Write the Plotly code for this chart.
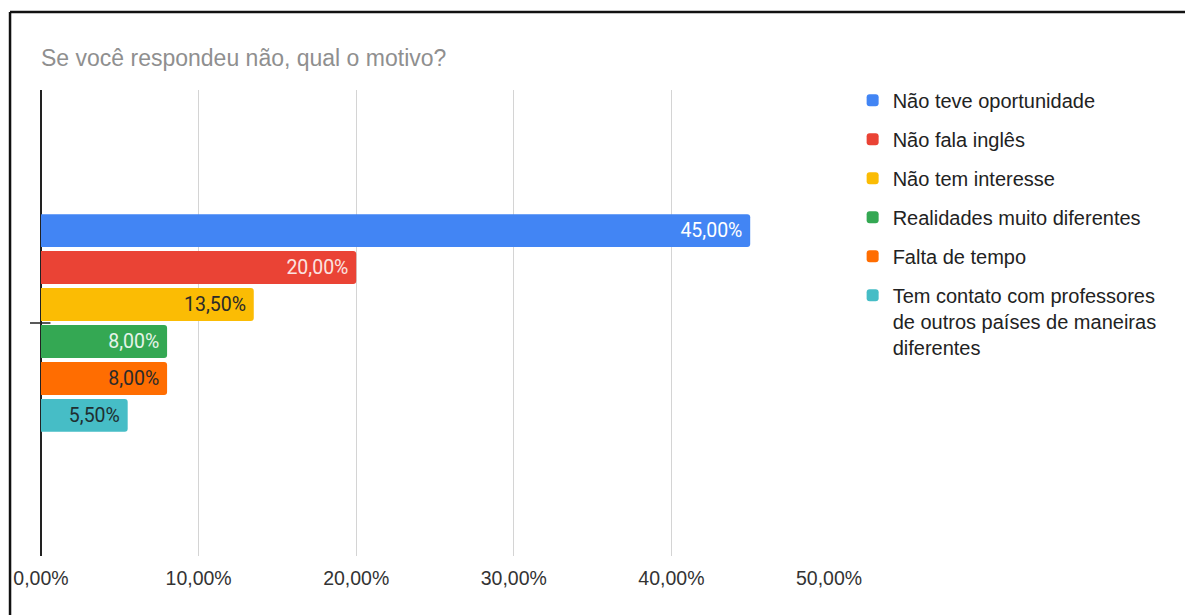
import plotly.graph_objects as go

categories = ["Não teve oportunidade", "Não fala inglês", "Não tem interesse",
              "Realidades muito diferentes", "Falta de tempo",
              "Tem contato com professores<br>de outros países de maneiras<br>diferentes"]
values = [0.45, 0.20, 0.135, 0.08, 0.08, 0.055]
colors = ["#4285F4", "#EA4335", "#FBBC04", "#34A853", "#FF6D01", "#46BDC6"]
label_colors = ["#ffffff", "#fbe3e1", "#2a2a2a", "#e6f4e9", "#2a2a2a", "#1f2f31"]
tick_vals = [0, 0.1, 0.2, 0.3, 0.4, 0.5]

fig = go.Figure()
for i, (name, v, c, lc) in enumerate(zip(categories, values, colors, label_colors)):
    fig.add_trace(go.Bar(
        x=[v], y=["motivo"], orientation="h", name=name,
        marker=dict(color=c, line=dict(width=0), cornerradius=3),
        texttemplate="%{x:.2%}\u00a0", textposition="inside", insidetextanchor="end",
        textfont=dict(family="Roboto", size=19.5, color=lc),
        legendgroup=f"g{i}", hoverinfo="skip",
    ))

fig.update_layout(
    width=1185, height=615,
    margin=dict(l=41, r=356, t=90, b=59),
    paper_bgcolor="white", plot_bgcolor="white",
    separators=",.",
    barmode="group", bargap=0.524, bargroupgap=0.11,
    font=dict(family="Liberation Sans, Arial", color="#222222"),
    title=dict(text="Se você respondeu não, qual o motivo?", x=0, xref="paper",
               xanchor="left", y=1 - 58 / 615, yref="container", yanchor="middle",
               font=dict(size=23, color="#8f8f8f", family="Liberation Sans, Arial")),
    showlegend=True,
    legend=dict(x=1.030, xanchor="left", y=1.02, yanchor="top", traceorder="grouped",
                tracegroupgap=10, valign="top", font=dict(size=20, color="#222222"),
                bgcolor="rgba(0,0,0,0)"),
    xaxis=dict(range=[0, 0.5], tickvals=tick_vals, tickformat=".2%",
               showgrid=True, gridcolor="#d4d4d4", gridwidth=1,
               zeroline=True, zerolinecolor="#222222", zerolinewidth=1.5,
               showline=False, ticks="", fixedrange=True, ticklabelstandoff=8,
               tickfont=dict(size=19.5, color="#333333")),
    yaxis=dict(range=[0.5, -0.5], showticklabels=False, showgrid=False,
               zeroline=False, showline=False, ticks="", fixedrange=True),
    shapes=[
        dict(type="line", xref="paper", yref="y", x0=-0.014, x1=0.012,
             y0="motivo", y1="motivo", line=dict(color="#222222", width=1.5)),
        dict(type="line", xref="paper", yref="paper", x0=-0.0393, x1=-0.0393,
             y0=-0.2, y1=1.1674, line=dict(color="#111111", width=2.5)),
        dict(type="line", xref="paper", yref="paper", x0=-0.0393, x1=1.5,
             y0=1.1674, y1=1.1674, line=dict(color="#111111", width=2.5)),
    ],
)

fig.write_html("out.html")
